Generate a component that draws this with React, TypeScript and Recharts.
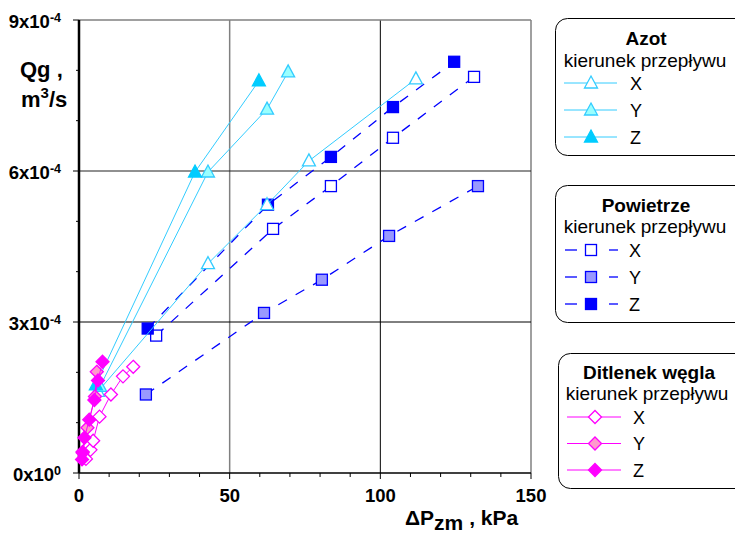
import { ScatterChart, Scatter, XAxis, YAxis, ReferenceLine } from 'recharts';

const FONT = '"Liberation Sans", Arial, Helvetica, sans-serif';

// ticks
const xTicks = [0, 10, 20, 30, 40, 50, 60, 70, 80, 90, 100, 110, 120, 130, 140, 150];
const yTicks = [0, 1e-4, 2e-4, 3e-4, 4e-4, 5e-4, 6e-4, 7e-4, 8e-4, 9e-4];
const directions = ['X', 'Y', 'Z'];

// Azot (nitrogen)
const azotX = [
  { p: 6.3, q: 1.62e-4 },
  { p: 42.8, q: 4.16e-4 },
  { p: 62.4, q: 5.33e-4 },
  { p: 76.3, q: 6.2e-4 },
  { p: 111.8, q: 7.83e-4 },
];
const azotY = [
  { p: 7.0, q: 1.72e-4 },
  { p: 42.8, q: 5.98e-4 },
  { p: 62.4, q: 7.23e-4 },
  { p: 69.4, q: 7.97e-4 },
];
const azotZ = [
  { p: 5.6, q: 1.75e-4 },
  { p: 38.5, q: 5.98e-4 },
  { p: 59.7, q: 7.79e-4 },
];

// Powietrze (air)
const airX = [
  { p: 25.6, q: 2.73e-4 },
  { p: 64.4, q: 4.85e-4 },
  { p: 83.6, q: 5.7e-4 },
  { p: 104.2, q: 6.66e-4 },
  { p: 131.1, q: 7.87e-4 },
];
const airY = [
  { p: 22.2, q: 1.56e-4 },
  { p: 61.4, q: 3.18e-4 },
  { p: 80.6, q: 3.84e-4 },
  { p: 102.9, q: 4.71e-4 },
  { p: 132.4, q: 5.7e-4 },
];
const airZ = [
  { p: 22.8, q: 2.87e-4 },
  { p: 62.7, q: 5.33e-4 },
  { p: 83.6, q: 6.28e-4 },
  { p: 104.2, q: 7.27e-4 },
  { p: 124.5, q: 8.17e-4 },
];

// Ditlenek wegla (CO2)
const co2X = [
  { p: 2.3, q: 0.28e-4 },
  { p: 3.8, q: 0.46e-4 },
  { p: 4.7, q: 0.64e-4 },
  { p: 6.8, q: 1.12e-4 },
  { p: 10.6, q: 1.56e-4 },
  { p: 14.6, q: 1.92e-4 },
  { p: 18.0, q: 2.11e-4 },
];
const co2Y = [
  { p: 1.2, q: 0.4e-4 },
  { p: 2.8, q: 0.9e-4 },
  { p: 5.3, q: 1.52e-4 },
  { p: 5.9, q: 2.01e-4 },
];
const co2Z = [
  { p: 1.0, q: 0.27e-4 },
  { p: 1.2, q: 0.42e-4 },
  { p: 1.8, q: 0.7e-4 },
  { p: 3.4, q: 1.06e-4 },
  { p: 5.1, q: 1.45e-4 },
  { p: 6.3, q: 1.84e-4 },
  { p: 7.8, q: 2.21e-4 },
];

const AZOT = '#33ccff';
const AIR = '#0000ff';
const CO2 = '#ff00ff';
const azotFills = ['#ffffff', '#99ffff', '#00ccff'];
const airFills = ['#ffffff', '#9999ff', '#0000ff'];
const co2Fills = ['#ffffff', '#ff99cc', '#ff00ff'];

const Tri = ({ cx, cy, fill, stroke }: any) => (
  <polygon
    points={`${cx},${cy - 7} ${cx + 6.5},${cy + 5} ${cx - 6.5},${cy + 5}`}
    fill={fill}
    stroke={stroke}
    strokeWidth={1.3}
  />
);
const Sq = ({ cx, cy, fill, stroke }: any) => (
  <rect x={cx - 5.5} y={cy - 5.5} width={11} height={11} fill={fill} stroke={stroke} strokeWidth={1.3} />
);
const Dia = ({ cx, cy, fill, stroke }: any) => (
  <polygon
    points={`${cx},${cy - 6.5} ${cx + 6.5},${cy} ${cx},${cy + 6.5} ${cx - 6.5},${cy}`}
    fill={fill}
    stroke={stroke}
    strokeWidth={1.3}
  />
);

const YTick = (props: any) => {
  const { x, y, payload } = props;
  const k = Math.round(payload.value * 1e4);
  const major = k % 3 === 0;
  return (
    <g>
      <line x1={x - (major ? 6 : 3)} x2={x} y1={y} y2={y} stroke="#000" />
      {major && (
        <text x={x - 18} y={y + 8} textAnchor="end" fontFamily={FONT} fontWeight="bold" fontSize={18.5} fill="#000">
          {k}x10
          <tspan dy={-6} fontSize={12.5}>
            {k === 0 ? '0' : '-4'}
          </tspan>
        </text>
      )}
    </g>
  );
};

const XTick = (props: any) => {
  const { x, y, payload } = props;
  const major = payload.value % 50 === 0;
  return (
    <g>
      <line x1={x} x2={x} y1={y} y2={y + (major ? 6 : 4)} stroke="#000" />
      {major && (
        <text x={x} y={y + 29} textAnchor="middle" fontFamily={FONT} fontWeight="bold" fontSize={18.5} fill="#000">
          {payload.value}
        </text>
      )}
    </g>
  );
};

const LegendRowLine = ({ y, x1, x2, color, dashed }: any) =>
  dashed ? (
    <g stroke={color} strokeWidth={1.3}>
      <line x1={x1} x2={x1 + 12} y1={y} y2={y} />
      <line x1={x2 - 9} x2={x2} y1={y} y2={y} />
    </g>
  ) : (
    <line x1={x1} x2={x2} y1={y} y2={y} stroke={color} strokeWidth={1} />
  );

export default function App() {
  return (
    <div style={{ position: 'absolute', left: 0, top: 0, width: 735, height: 534, background: '#fff' }}>
      <ScatterChart width={735} height={534} margin={{ top: 20, right: 204, bottom: 31, left: 0 }}>
        <XAxis
          type="number"
          dataKey="p"
          domain={[0, 150]}
          ticks={xTicks}
          interval={0}
          height={30}
          tickSize={0}
          tickMargin={0}
          tickLine={false}
          axisLine={{ stroke: '#000', strokeWidth: 1.5 }}
          tick={<XTick />}
        />
        <YAxis
          type="number"
          dataKey="q"
          domain={[0, 9e-4]}
          ticks={yTicks}
          interval={0}
          width={79}
          tickSize={0}
          tickMargin={0}
          tickLine={false}
          axisLine={{ stroke: '#000', strokeWidth: 2.5 }}
          tick={<YTick />}
        />
        <ReferenceLine x={50} stroke="#808080" strokeWidth={1.5} />
        <ReferenceLine x={100} stroke="#000" strokeWidth={1} />
        <ReferenceLine x={150} stroke="#808080" strokeWidth={1.5} />
        <ReferenceLine y={3e-4} stroke="#000" strokeWidth={1} />
        <ReferenceLine y={6e-4} stroke="#222" strokeWidth={1.2} />
        <ReferenceLine y={9e-4} stroke="#808080" strokeWidth={1.5} />

        <Scatter data={airX} isAnimationActive={false} line={{ stroke: AIR, strokeWidth: 1.3, strokeDasharray: '10 10' }} shape={(pr: any) => <Sq {...pr} fill={airFills[0]} stroke={AIR} />} />
        <Scatter data={airY} isAnimationActive={false} line={{ stroke: AIR, strokeWidth: 1.3, strokeDasharray: '10 10' }} shape={(pr: any) => <Sq {...pr} fill={airFills[1]} stroke={AIR} />} />
        <Scatter data={airZ} isAnimationActive={false} line={{ stroke: AIR, strokeWidth: 1.3, strokeDasharray: '10 10' }} shape={(pr: any) => <Sq {...pr} fill={airFills[2]} stroke={AIR} />} />

        <Scatter data={azotX} isAnimationActive={false} line={{ stroke: AZOT, strokeWidth: 1 }} shape={(pr: any) => <Tri {...pr} fill={azotFills[0]} stroke={AZOT} />} />
        <Scatter data={azotY} isAnimationActive={false} line={{ stroke: AZOT, strokeWidth: 1 }} shape={(pr: any) => <Tri {...pr} fill={azotFills[1]} stroke={AZOT} />} />
        <Scatter data={azotZ} isAnimationActive={false} line={{ stroke: AZOT, strokeWidth: 1 }} shape={(pr: any) => <Tri {...pr} fill={azotFills[2]} stroke={azotFills[2]} />} />

        <Scatter data={co2X} isAnimationActive={false} line={{ stroke: CO2, strokeWidth: 1 }} shape={(pr: any) => <Dia {...pr} fill={co2Fills[0]} stroke={CO2} />} />
        <Scatter data={co2Y} isAnimationActive={false} line={{ stroke: CO2, strokeWidth: 1 }} shape={(pr: any) => <Dia {...pr} fill={co2Fills[1]} stroke={CO2} />} />
        <Scatter data={co2Z} isAnimationActive={false} line={{ stroke: CO2, strokeWidth: 1 }} shape={(pr: any) => <Dia {...pr} fill={co2Fills[2]} stroke={CO2} />} />
      </ScatterChart>

      <svg width={735} height={534} style={{ position: 'absolute', left: 0, top: 0, pointerEvents: 'none' }} fontFamily={FONT}>
        {/* axis titles */}
        <text x={20} y={77} fontSize={22} fontWeight="bold" fill="#000">Qg ,</text>
        <text x={21} y={107} fontSize={22} fontWeight="bold" fill="#000">
          m<tspan dy={-9} fontSize={15}>3</tspan>
          <tspan dy={9}>/s</tspan>
        </text>
        <text x={405} y={525} fontSize={21} fontWeight="bold" fill="#000">
          ΔP<tspan dy={5}>zm</tspan>
          <tspan dy={-5}> , kPa</tspan>
        </text>

        {/* Azot legend */}
        <rect x={555.5} y={18.5} width={200} height={137} rx={12} fill="#fff" stroke="#000" />
        <text x={646} y={45} textAnchor="middle" fontSize={19} fontWeight="bold">Azot</text>
        <text x={645} y={67} textAnchor="middle" fontSize={19}>kierunek przepływu</text>
        {directions.map((d, i) => {
          const y = 83 + i * 27;
          return (
            <g key={'a' + d}>
              <LegendRowLine y={y} x1={564} x2={617} color={AZOT} />
              <Tri cx={591} cy={y} fill={azotFills[i]} stroke={i === 2 ? azotFills[2] : AZOT} />
              <text x={630} y={y + 6.5} fontSize={18}>{d}</text>
            </g>
          );
        })}

        {/* Powietrze legend */}
        <rect x={555.5} y={185.5} width={200} height={137} rx={12} fill="#fff" stroke="#000" />
        <text x={646} y={212} textAnchor="middle" fontSize={19} fontWeight="bold">Powietrze</text>
        <text x={645} y={233} textAnchor="middle" fontSize={19}>kierunek przepływu</text>
        {directions.map((d, i) => {
          const y = 250 + i * 27;
          return (
            <g key={'p' + d}>
              <LegendRowLine y={y} x1={565} x2={618} color={AIR} dashed />
              <Sq cx={591} cy={y} fill={airFills[i]} stroke={AIR} />
              <text x={629} y={y + 6.5} fontSize={18}>{d}</text>
            </g>
          );
        })}

        {/* Ditlenek wegla legend */}
        <rect x={558.5} y={353.5} width={200} height={135} rx={12} fill="#fff" stroke="#000" />
        <text x={649} y={379} textAnchor="middle" fontSize={19} fontWeight="bold">Ditlenek węgla</text>
        <text x={647} y={400} textAnchor="middle" fontSize={19}>kierunek przepływu</text>
        {directions.map((d, i) => {
          const y = 417 + i * 26.5;
          return (
            <g key={'c' + d}>
              <LegendRowLine y={y} x1={567} x2={621} color={CO2} />
              <Dia cx={595} cy={y} fill={co2Fills[i]} stroke={CO2} />
              <text x={633} y={y + 6.5} fontSize={18}>{d}</text>
            </g>
          );
        })}
      </svg>
    </div>
  );
}
